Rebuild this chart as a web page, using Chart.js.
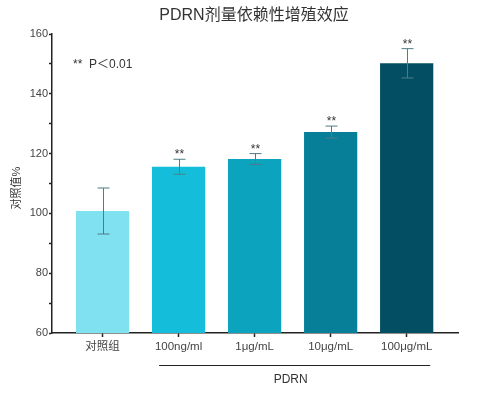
<!DOCTYPE html>
<html>
<head>
<meta charset="utf-8">
<script src="https://cdn.jsdelivr.net/npm/chart.js@4/dist/chart.umd.min.js"></script>
<style>
  html, body { margin: 0; padding: 0; background: #fff; }
  #wrap { width: 485px; height: 394px; }
</style>
</head>
<body>
<div id="wrap"><canvas id="chart" width="485" height="394"></canvas></div>
<script>
// data
const categories = ['对照组', '100ng/ml', '1μg/mL', '10μg/mL', '100μg/mL'];
const means = [100.8, 115.6, 118.2, 127.2, 150.2];
const errors = [7.7, 2.5, 1.8, 2.0, 4.9];
const significant = [false, true, true, true, true];
const barColors = ['#80e1f1', '#14bedb', '#0ba3be', '#077f98', '#034e63'];
const yTicks = [60, 80, 100, 120, 140, 160];

const FONT = '"Liberation Sans", Arial, "Noto Sans CJK SC", sans-serif';

// error bars, stars, title and PDRN bracket
const extrasPlugin = {
    id: 'extras',
    afterDatasetsDraw(chart) {
        const ctx = chart.ctx;
        const x = chart.scales.x;
        const y = chart.scales.y;
        ctx.save();

        // error bars
        ctx.strokeStyle = '#4f7d84';
        ctx.lineWidth = 1;
        means.forEach((m, i) => {
            const cx = Math.round(x.getPixelForValue(i)) + 0.5;
            const top = y.getPixelForValue(m + errors[i]);
            const bot = y.getPixelForValue(m - errors[i]);
            ctx.beginPath();
            ctx.moveTo(cx, top);
            ctx.lineTo(cx, bot);
            ctx.moveTo(cx - 6, top);
            ctx.lineTo(cx + 6, top);
            ctx.moveTo(cx - 6, bot);
            ctx.lineTo(cx + 6, bot);
            ctx.stroke();

            if (significant[i]) {
                ctx.fillStyle = '#333';
                ctx.font = '12px ' + FONT;
                ctx.textAlign = 'center';
                ctx.textBaseline = 'alphabetic';
                ctx.fillText('**', cx, top - 1);
            }
        });

        // title
        ctx.fillStyle = '#333';
        ctx.font = '16px ' + FONT;
        ctx.textAlign = 'center';
        ctx.textBaseline = 'middle';
        ctx.fillText('PDRN剂量依赖性增殖效应', 254, 16);

        // p-value note
        ctx.font = '12px ' + FONT;
        ctx.textAlign = 'left';
        ctx.fillText('**  P＜0.01', 73, 65);

        // y axis title
        ctx.save();
        ctx.translate(17, 188);
        ctx.rotate(-Math.PI / 2);
        ctx.font = '11px ' + FONT;
        ctx.textAlign = 'center';
        ctx.fillText('对照值%', 0, 0);
        ctx.restore();

        // PDRN bracket line
        const x1 = x.getPixelForValue(1) - 19.5;
        const x2 = x.getPixelForValue(4) + 23.5;
        ctx.strokeStyle = '#222';
        ctx.lineWidth = 1.2;
        ctx.beginPath();
        ctx.moveTo(x1, 365.5);
        ctx.lineTo(x2, 365.5);
        ctx.stroke();
        ctx.fillStyle = '#333';
        ctx.font = '12px ' + FONT;
        ctx.textAlign = 'center';
        ctx.fillText('PDRN', (x1 + x2) / 2 - 4, 380);

        ctx.restore();
    }
};

new Chart(document.getElementById('chart'), {
    type: 'bar',
    data: {
        datasets: [{
            data: categories.map((c, i) => ({ x: i, y: means[i] })),
            backgroundColor: barColors,
            borderWidth: 0,
            barPercentage: 0.7,
            categoryPercentage: 1.0
        }]
    },
    options: {
        responsive: false,
        animation: false,
        layout: { padding: { left: 0, right: 27, top: 34, bottom: 0 } },
        plugins: { legend: { display: false }, tooltip: { enabled: false } },
        scales: {
            x: {
                type: 'linear',
                offset: false,
                min: -0.665,
                max: 4.675,
                afterBuildTicks(scale) {
                    scale.ticks = categories.map((c, i) => ({ value: i }));
                },
                afterFit(scale) { scale.height = 61; },
                grid: { offset: false, drawOnChartArea: false, drawTicks: true, tickLength: 4, color: '#222', tickWidth: 1.5 },
                border: { display: true, color: '#222', width: 1.5 },
                ticks: {
                    autoSkip: false,
                    maxRotation: 0,
                    padding: 3,
                    color: '#444',
                    font: { size: 11.5, family: FONT },
                    callback: v => categories[v]
                }
            },
            y: {
                min: 60,
                max: 160,
                afterBuildTicks(scale) {
                    const t = [];
                    for (let v = yTicks[0]; v <= yTicks[yTicks.length - 1]; v += 10) t.push({ value: v });
                    scale.ticks = t;
                },
                afterFit(scale) { scale.width = 52; },
                grid: { drawOnChartArea: false, drawTicks: true, tickLength: 3, color: '#222', tickWidth: 1.5 },
                border: { display: true, color: '#222', width: 1.5 },
                ticks: {
                    padding: 1,
                    color: '#444',
                    font: { size: 11, family: FONT },
                    callback: v => yTicks.includes(v) ? String(v) : ''
                }
            }
        }
    },
    plugins: [extrasPlugin]
});
</script>
</body>
</html>
